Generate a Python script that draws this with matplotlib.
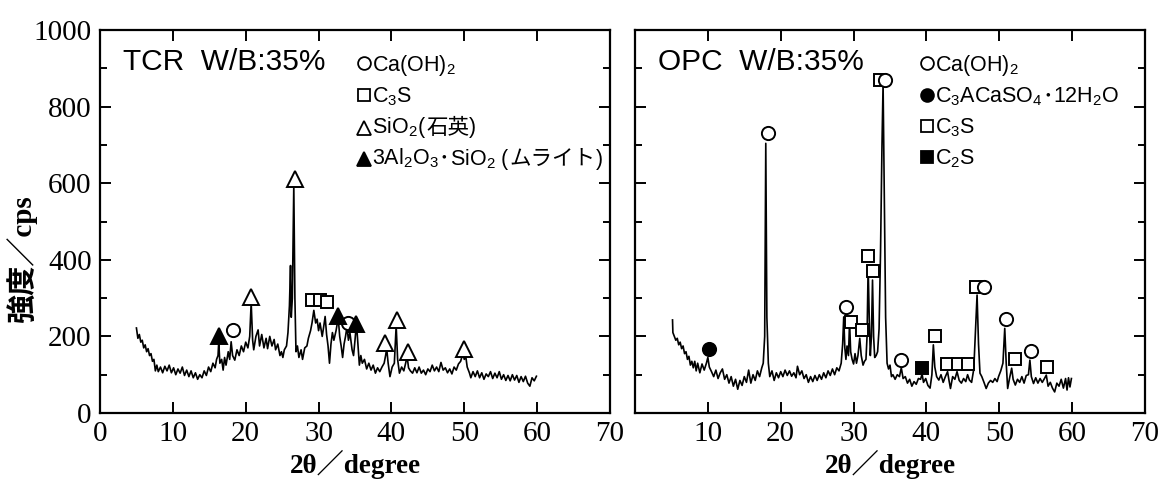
import matplotlib
matplotlib.use("Agg")
import matplotlib.pyplot as plt
from matplotlib.ticker import MultipleLocator

# ---------------- data ----------------
tcr_x = [5.0, 5.2, 5.4, 5.6, 5.8, 6.0, 6.2, 6.4, 6.6, 6.8, 7.0, 7.2, 7.4, 7.6, 7.8, 8.0, 8.3, 8.6, 8.9, 9.2,
         9.5, 9.8, 10.1, 10.4, 10.7, 11.0, 11.3, 11.6, 11.9, 12.2, 12.5, 12.8, 13.1, 13.4, 13.7, 14.0, 14.3, 14.6,
         14.9, 15.2, 15.5, 15.8, 16.0, 16.2, 16.3, 16.45, 16.7, 16.9, 17.1, 17.3, 17.6, 17.8, 18.0, 18.2, 18.5,
         18.8, 19.1, 19.4, 19.7, 20.0, 20.3, 20.55, 20.75, 20.95, 21.1, 21.4, 21.7, 21.9, 22.2, 22.5, 22.8, 23.0,
         23.3, 23.6, 23.9, 24.1, 24.4, 24.7, 24.9, 25.1, 25.3, 25.6, 25.8, 26.0, 26.15, 26.25, 26.4, 26.6, 26.75,
         26.9, 27.1, 27.3, 27.6, 27.8, 28.1, 28.4, 28.6, 28.9, 29.1, 29.35, 29.6, 29.8, 30.0, 30.2, 30.5, 30.7,
         30.9, 31.1, 31.3, 31.5, 31.7, 31.9, 32.1, 32.4, 32.7, 32.9, 33.1, 33.3, 33.5, 33.7, 33.9, 34.1, 34.3,
         34.6, 34.8, 35.0, 35.2, 35.4, 35.6, 35.8, 36.0, 36.3, 36.6, 36.9, 37.2, 37.5, 37.8, 38.1, 38.4, 38.7,
         39.0, 39.2, 39.35, 39.55, 39.8, 40.1, 40.4, 40.65, 40.85, 41.1, 41.4, 41.7, 41.95, 42.15, 42.35, 42.6,
         42.9, 43.2, 43.5, 43.8, 44.1, 44.4, 44.7, 45.0, 45.3, 45.6, 45.9, 46.2, 46.5, 46.8, 47.1, 47.4, 47.7,
         48.0, 48.3, 48.6, 48.9, 49.2, 49.5, 49.8, 50.0, 50.2, 50.4, 50.7, 50.9, 51.2, 51.5, 51.8, 52.1, 52.4,
         52.7, 53.0, 53.3, 53.6, 53.9, 54.2, 54.5, 54.8, 55.1, 55.4, 55.7, 56.0, 56.3, 56.6, 56.9, 57.2, 57.5,
         57.8, 58.1, 58.4, 58.7, 59.0, 59.3, 59.6, 59.9]
tcr_y = [222, 195, 205, 185, 190, 170, 178, 160, 168, 150, 155, 135, 140, 110, 125, 108, 120, 105, 122, 110,
         125, 105, 118, 100, 115, 104, 120, 98, 112, 95, 110, 92, 105, 88, 100, 92, 110, 98,
         120, 108, 130, 118, 140, 150, 186, 130, 140, 112, 145, 125, 160, 140, 186, 150, 138,
         165, 150, 175, 160, 185, 170, 200, 288, 190, 165, 200, 217, 175, 205, 170, 195, 168,
         200, 175, 192, 165, 180, 150, 160, 145, 165, 175, 210, 280, 385, 250, 300, 595, 300,
         160, 175, 145, 165, 140, 170, 175, 195, 215, 235, 268, 235, 245, 215, 235, 200, 225,
         252, 205, 175, 130, 180, 210, 190, 215, 248, 200, 175, 145, 180, 200, 225, 190, 210,
         165, 150, 190, 235, 180, 125, 150, 130, 140, 115, 130, 112, 125, 104, 118, 108, 120,
         130, 150, 168, 130, 95, 120, 130, 228, 140, 104, 120, 110, 130, 148, 118, 110,
         104, 118, 105, 120, 104, 112, 100, 115, 108, 125, 110, 120, 108, 132, 112, 118, 105,
         115, 102, 120, 112, 128, 135, 155, 140, 148, 120, 105, 92, 108, 95, 110, 92, 105,
         88, 102, 95, 108, 90, 104, 92, 108, 88, 100, 85, 98, 84, 100, 86, 98, 80,
         95, 82, 96, 78, 70, 92, 84, 96]

opc_x = [5.15, 5.2, 5.4, 5.6, 5.8, 6.0, 6.2, 6.4, 6.6, 6.8, 7.0, 7.2, 7.4, 7.6, 7.8, 8.0, 8.2, 8.4, 8.6, 8.9,
         9.2, 9.5, 9.8, 10.0, 10.2, 10.5, 10.8, 11.1, 11.4, 11.7, 12.0, 12.3, 12.6, 12.9, 13.2, 13.5, 13.8,
         14.1, 14.4, 14.7, 15.0, 15.3, 15.6, 15.9, 16.2, 16.5, 16.8, 17.1, 17.4, 17.6, 17.8, 17.95, 18.1, 18.3,
         18.5, 18.8, 19.1, 19.4, 19.7, 20.0, 20.3, 20.6, 20.9, 21.2, 21.5, 21.8, 22.1, 22.3, 22.6, 22.9, 23.2,
         23.5, 23.8, 24.1, 24.4, 24.7, 25.0, 25.3, 25.6, 25.9, 26.2, 26.5, 26.8, 27.1, 27.4, 27.7, 28.0, 28.3,
         28.5, 28.65, 28.8, 28.95, 29.1, 29.3, 29.45, 29.6, 29.8, 30.0, 30.2, 30.4, 30.6, 30.85, 31.05, 31.3,
         31.5, 31.7, 31.85, 32.0, 32.15, 32.3, 32.45, 32.6, 32.75, 32.9, 33.1, 33.3, 33.5, 33.7, 33.9, 34.05,
         34.2, 34.4, 34.6, 34.8, 35.0, 35.2, 35.4, 35.7, 36.0, 36.3, 36.55, 36.8, 37.1, 37.4, 37.7, 38.0, 38.3,
         38.6, 38.9, 39.2, 39.4, 39.6, 39.9, 40.2, 40.5, 40.75, 40.95, 41.15, 41.4, 41.7, 42.0, 42.3, 42.6,
         42.9, 43.1, 43.3, 43.6, 43.9, 44.2, 44.5, 44.8, 45.1, 45.4, 45.65, 45.9, 46.2, 46.5, 46.7, 46.95,
         47.15, 47.35, 47.6, 47.9, 48.2, 48.5, 48.8, 49.1, 49.4, 49.7, 49.9, 50.2, 50.5, 50.75, 50.95, 51.15,
         51.4, 51.7, 51.9, 52.2, 52.5, 52.8, 53.1, 53.4, 53.7, 54.0, 54.2, 54.4, 54.7, 55.0, 55.3, 55.6, 55.9,
         56.2, 56.45, 56.7, 57.0, 57.3, 57.6, 57.9, 58.2, 58.5, 58.8, 59.1, 59.3, 59.5, 59.7, 59.9]
opc_y = [243, 210, 200, 190, 195, 178, 185, 168, 175, 155, 160, 140, 148, 125, 135, 118, 135, 110, 130, 105,
         128, 112, 130, 145, 120, 108, 95, 112, 90, 105, 115, 88, 100, 78, 95, 70, 88,
         62, 85, 72, 95, 80, 112, 78, 100, 85, 110, 95, 118, 130, 200, 704, 250, 130,
         95, 110, 85, 105, 92, 108, 95, 112, 98, 110, 96, 105, 92, 122, 100, 110, 90,
         100, 80, 95, 82, 98, 85, 100, 88, 105, 92, 110, 98, 115, 100, 118, 110, 130,
         180, 251, 170, 140, 175, 150, 238, 160, 140, 128, 155, 130, 150, 195, 150, 125,
         135, 140, 200, 382, 250, 150, 200, 347, 200, 145, 150, 160, 220, 420, 700, 860,
         600, 250, 130, 115, 125, 95, 100, 88, 100, 95, 118, 90, 95, 78, 88, 70, 82,
         75, 90, 88, 102, 80, 90, 72, 65, 100, 178, 120, 95, 86, 100, 80, 95,
         108, 85, 64, 95, 88, 108, 85, 78, 90, 82, 100, 86, 80, 115, 200, 308,
         180, 104, 95, 80, 64, 78, 85, 80, 90, 82, 95, 110, 130, 221, 130, 64,
         90, 117, 88, 73, 88, 80, 95, 78, 98, 100, 138, 95, 77, 92, 78, 90, 80,
         90, 99, 70, 80, 65, 55, 78, 70, 88, 65, 90, 60, 92, 68, 90]

# peak markers (2theta, intensity of marker)
tcr_ch_x = [18.2, 34.1];                 tcr_ch_y = [217, 234]
tcr_c3s_x = [29.1, 30.2, 31.1];           tcr_c3s_y = [295, 295, 291]
tcr_quartz_x = [20.7, 26.7, 39.1, 40.7, 42.3, 50.0]
tcr_quartz_y = [302, 611, 182, 243, 158, 167]
tcr_mullite_x = [16.3, 32.7, 35.2];       tcr_mullite_y = [202, 254, 232]

opc_ch_x = [18.2, 28.9, 34.3, 36.5, 47.9, 50.9, 54.4]
opc_ch_y = [732, 278, 870, 138, 330, 245, 163]
opc_afm_x = [10.1];                        opc_afm_y = [167]
opc_c3s_x = [29.7, 31.2, 32.0, 32.6, 33.6, 41.2, 42.8, 44.3, 45.7, 46.8, 52.2, 56.6]
opc_c3s_y = [238, 217, 411, 372, 870, 201, 128, 128, 128, 330, 141, 121]
opc_c2s_x = [39.4];                        opc_c2s_y = [117]

x_ticks = [0, 10, 20, 30, 40, 50, 60, 70]
y_ticks = [0, 200, 400, 600, 800, 1000]

tcr_title = "TCR  W/B:35%"
opc_title = "OPC  W/B:35%"
LAT, JP = "Liberation Sans", "Noto Sans CJK JP"
# legend rows: (marker, filled, [(text, font), ...])
tcr_legend = [("o", False, [("Ca(OH)$_2$", LAT)]),
              ("s", False, [("C$_3$S", LAT)]),
              ("^", False, [("SiO$_2$(", LAT), ("石英", JP), (")", LAT)]),
              ("^", True, [("3Al$_2$O$_3$", LAT), ("･", JP), ("SiO$_2$ (", LAT), ("ムライト", JP), (")", LAT)])]
opc_legend = [("o", False, [("Ca(OH)$_2$", LAT)]),
              ("o", True, [("C$_3$ACaSO$_4$", LAT), ("･", JP), ("12H$_2$O", LAT)]),
              ("s", False, [("C$_3$S", LAT)]),
              ("s", True, [("C$_2$S", LAT)])]
x_label = "2θ／degree"
y_label = "強度／cps"

# ---------------- style ----------------
plt.rcParams["mathtext.default"] = "regular"
W, H = 1162, 483
fig = plt.figure(figsize=(W / 100, H / 100), dpi=100)
AX_L1, AX_L2, AX_B, AX_W, AX_H = 100, 635, 70, 510, 383
ax1 = fig.add_axes([AX_L1 / W, AX_B / H, AX_W / W, AX_H / H])
ax2 = fig.add_axes([AX_L2 / W, AX_B / H, AX_W / W, AX_H / H])

serif = ["Liberation Serif", "Noto Sans CJK JP"]
tick_fp = dict(family="Liberation Serif", size=21)

def style(ax, show_ylabels, xlabels):
    ax.set_xlim(0, 70)
    ax.set_ylim(0, 1000)
    ax.set_xticks(x_ticks)
    ax.set_xticklabels(xlabels, **tick_fp)
    ax.set_yticks(y_ticks)
    if show_ylabels:
        ax.set_yticklabels([str(v) for v in y_ticks], **tick_fp)
    else:
        ax.set_yticklabels([])
    ax.yaxis.set_minor_locator(MultipleLocator(100))
    ax.tick_params(which="both", direction="in", top=True, right=True, width=1.4, colors="black")
    ax.tick_params(which="major", length=8, pad=6)
    ax.tick_params(which="minor", length=5)
    for s in ax.spines.values():
        s.set_linewidth(1.6)
    ax.set_xlabel(x_label, family=serif, weight="bold", size=19.5, labelpad=2)

style(ax1, True, [str(v) for v in x_ticks])
style(ax2, False, [""] + [str(v) for v in x_ticks[1:]])
ax1.set_ylabel(y_label, family=serif, weight="bold", size=21)
ax1.yaxis.set_label_coords(-0.124, 0.405)

lw = 1.2
ax1.plot(tcr_x, tcr_y, color="black", lw=lw, zorder=2)
ax2.plot(opc_x, opc_y, color="black", lw=lw, zorder=2)

MS = {"o": 9.5, "s": 9, "^": 11}

def mk(ax, xs, ys, marker, filled, **kw):
    ax.plot(xs, ys, linestyle="none", marker=marker, ms=MS[marker],
            mfc="black" if filled else "white", mec="black", mew=1.4, zorder=3, **kw)

mk(ax1, tcr_ch_x, tcr_ch_y, "o", False)
mk(ax1, tcr_c3s_x, tcr_c3s_y, "s", False)
mk(ax1, tcr_quartz_x, tcr_quartz_y, "^", False)
mk(ax1, tcr_mullite_x, tcr_mullite_y, "^", True)

mk(ax2, opc_c3s_x, opc_c3s_y, "s", False)
mk(ax2, opc_ch_x, opc_ch_y, "o", False)
mk(ax2, opc_afm_x, opc_afm_y, "o", True)
mk(ax2, opc_c2s_x, opc_c2s_y, "s", True)

title_fp = dict(family=LAT, size=21.5)
ax1.text(0.045, 0.896, tcr_title, transform=ax1.transAxes, va="baseline", ha="left", **title_fp)
ax2.text(0.045, 0.896, opc_title, transform=ax2.transAxes, va="baseline", ha="left", **title_fp)

renderer = fig.canvas.get_renderer()
row_centers = [63, 95, 126, 157]   # pixel rows from the top

def legend(ax, ax_left, sym_px, text_px, rows):
    for (marker, filled, segs), yc in zip(rows, row_centers):
        sx = (sym_px - ax_left) / AX_W
        sy = (H - AX_B - yc) / AX_H
        dy = -0.006 if marker == "^" else 0.0
        ax.plot([sx], [sy + dy], transform=ax.transAxes, clip_on=False, linestyle="none",
                marker=marker, ms=MS[marker] - 0.3,
                mfc="black" if filled else "white", mec="black", mew=1.3)
        x = text_px
        base = (H - (yc + 7.5)) / H
        for txt, fam in segs:
            t = fig.text(x / W, base, txt, family=fam, size=15.5, va="baseline", ha="left")
            bb = t.get_window_extent(renderer)
            x = bb.x1

legend(ax1, AX_L1, 364, 372, tcr_legend)
legend(ax2, AX_L2, 927, 935, opc_legend)

fig.savefig("out.png", dpi=100)
